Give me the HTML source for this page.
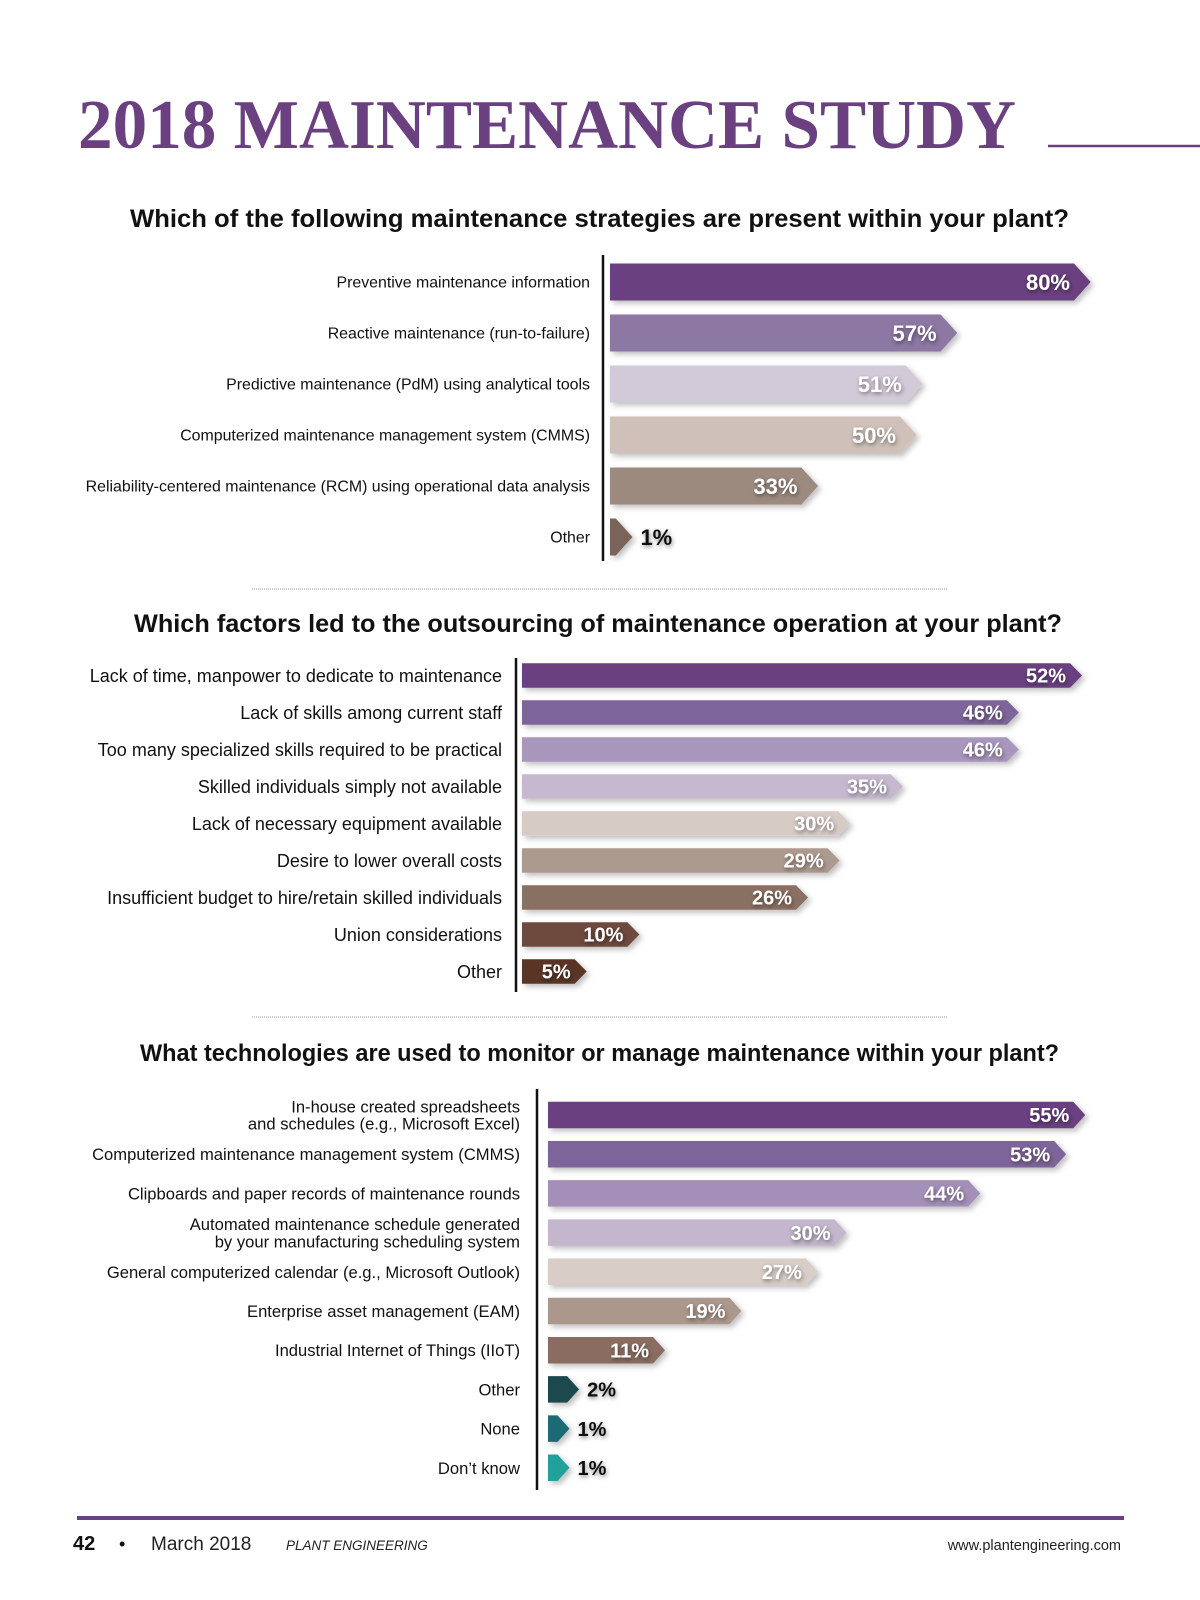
<!DOCTYPE html>
<html><head><meta charset="utf-8"><style>
body{margin:0;background:#fff}
svg{display:block}
text{font-family:"Liberation Sans",Arial,sans-serif}
</style></head><body>
<svg id="page" width="1200" height="1600" viewBox="0 0 1200 1600" xmlns="http://www.w3.org/2000/svg">
<defs>
<filter id="sh" x="-20%" y="-50%" width="150%" height="220%"><feDropShadow dx="3" dy="3" stdDeviation="3" flood-color="#000" flood-opacity="0.25"/></filter>
<filter id="tsh" x="-20%" y="-50%" width="150%" height="200%"><feDropShadow dx="1" dy="2" stdDeviation="2" flood-color="#000" flood-opacity="0.45"/></filter>
</defs>
<text x="78" y="148" font-family="Liberation Serif,serif" font-weight="bold" font-size="70" fill="#6a4080" textLength="938" lengthAdjust="spacingAndGlyphs" style="font-family:'Liberation Serif',serif">2018 MAINTENANCE STUDY</text>
<line x1="1048" y1="146" x2="1200" y2="146" stroke="#6a4080" stroke-width="2.5"/>
<text x="130" y="227" font-weight="bold" font-size="25" fill="#111" textLength="939" lengthAdjust="spacingAndGlyphs">Which of the following maintenance strategies are present within your plant?</text>
<line x1="252" y1="589" x2="947" y2="589" stroke="#999" stroke-width="1" stroke-dasharray="1 1"/>
<text x="134" y="632" font-weight="bold" font-size="25" fill="#111" textLength="928" lengthAdjust="spacingAndGlyphs">Which factors led to the outsourcing of maintenance operation at your plant?</text>
<line x1="252" y1="1017" x2="947" y2="1017" stroke="#999" stroke-width="1" stroke-dasharray="1 1"/>
<text x="140" y="1061" font-weight="bold" font-size="24" fill="#111" textLength="919" lengthAdjust="spacingAndGlyphs">What technologies are used to monitor or manage maintenance within your plant?</text>
<g id="c1"></g>
<g id="c2"></g>
<g id="c3"></g>
<rect x="77" y="1516" width="1047" height="4" fill="#6a4080"/>
<text x="73" y="1550" font-weight="bold" font-size="20" fill="#111">42</text>
<text x="119" y="1550" font-size="18" fill="#111">•</text>
<text x="151" y="1550" font-size="19" fill="#222">March 2018</text>
<text x="286" y="1550" font-size="13.5" font-style="italic" fill="#222">PLANT ENGINEERING</text>
<text x="1121" y="1550" text-anchor="end" font-size="14.5" fill="#222">www.plantengineering.com</text>
</svg>
<script>
const c1Categories=["Preventive maintenance information","Reactive maintenance (run-to-failure)","Predictive maintenance (PdM) using analytical tools","Computerized maintenance management system (CMMS)","Reliability-centered maintenance (RCM) using operational data analysis","Other"];
const c1Values=[80,57,51,50,33,1];
const c1Colors=["#6a4080","#8d77a3","#d3cad9","#cfc1b9","#9c8a7f","#7a6358"];
const c2Categories=["Lack of time, manpower to dedicate to maintenance","Lack of skills among current staff","Too many specialized skills required to be practical","Skilled individuals simply not available","Lack of necessary equipment available","Desire to lower overall costs","Insufficient budget to hire/retain skilled individuals","Union considerations","Other"];
const c2Values=[52,46,46,35,30,29,26,10,5];
const c2Colors=["#6a4080","#7e6599","#a996bd","#c6b9cf","#d7cbc6","#ad9a8f","#8a6f62","#6e4a3d","#5a3528"];
const c3Categories=["In-house created spreadsheets|and schedules (e.g., Microsoft Excel)","Computerized maintenance management system (CMMS)","Clipboards and paper records of maintenance rounds","Automated maintenance schedule generated|by your manufacturing scheduling system","General computerized calendar (e.g., Microsoft Outlook)","Enterprise asset management (EAM)","Industrial Internet of Things (IIoT)","Other","None","Don’t know"];
const c3Values=[55,53,44,30,27,19,11,2,1,1];
const c3Colors=["#6a4080","#7e6599","#a38fb8","#c4b6cc","#d8cdc7","#ab978c","#8a6d60","#1e4a4e","#1a6b73","#21a09a"];

const NS="http://www.w3.org/2000/svg";
function mk(tag,attrs,parent){const e=document.createElementNS(NS,tag);for(const k in attrs)e.setAttribute(k,attrs[k]);parent.appendChild(e);return e;}
function draw(gid,prefix,cats,vals,cols,cfg){
  const g=document.getElementById(gid);
  const x=v=>cfg.x0+v*cfg.perPct;
  const y=i=>cfg.yFirst+i*cfg.step;
  const ax=mk('line',{x1:cfg.axisX,y1:cfg.axisTop,x2:cfg.axisX,y2:cfg.axisBot,stroke:'#111','stroke-width':2.5},g);
  
  
  cats.forEach((c,i)=>{
    const cy=y(i),h=cfg.h,x1=x(vals[i]),tip=Math.max(12,h*0.45);
    const bodyEnd=Math.max(cfg.x0,x1);
    const p=mk('polygon',{points:`${cfg.x0},${cy-h/2} ${bodyEnd},${cy-h/2} ${bodyEnd+tip},${cy} ${bodyEnd},${cy+h/2} ${cfg.x0},${cy+h/2}`,fill:cols[i],filter:'url(#sh)'},g);
    
    
    const inside=(bodyEnd-cfg.x0)>38;
    const t=mk('text',{x:inside?bodyEnd-4:bodyEnd+tip+8,y:cy+cfg.vfs*0.36,'text-anchor':inside?'end':'start','font-weight':'bold','font-size':cfg.vfs,fill:inside?'#fff':'#111',filter:'url(#tsh)'},g);
    t.textContent=vals[i]+'%';
    
    
    const lines=c.split('|');
    lines.forEach((ln,j)=>{
      const ly=cy+cfg.lfs*0.36+(j-(lines.length-1)/2)*cfg.lfs*1.05;
      const lt=mk('text',{x:cfg.labelX,y:ly,'text-anchor':'end','font-size':cfg.lfs,fill:'#111'},g);
      lt.textContent=ln;
      
      
    });
  });
}
draw('c1','strategies',c1Categories,c1Values,c1Colors,{x0:610,perPct:5.8,yFirst:282,step:51,h:37,axisX:603,axisTop:255,axisBot:561,labelX:590,lfs:15.9,vfs:22});
draw('c2','outsourcing',c2Categories,c2Values,c2Colors,{x0:522,perPct:10.54,yFirst:675.5,step:37.0,h:24.5,axisX:516,axisTop:658,axisBot:992,labelX:502,lfs:18,vfs:20});
draw('c3','technologies',c3Categories,c3Values,c3Colors,{x0:548,perPct:9.55,yFirst:1115,step:39.2,h:26.5,axisX:537,axisTop:1089,axisBot:1490,labelX:520,lfs:16.6,vfs:20});
</script>
</body></html>
